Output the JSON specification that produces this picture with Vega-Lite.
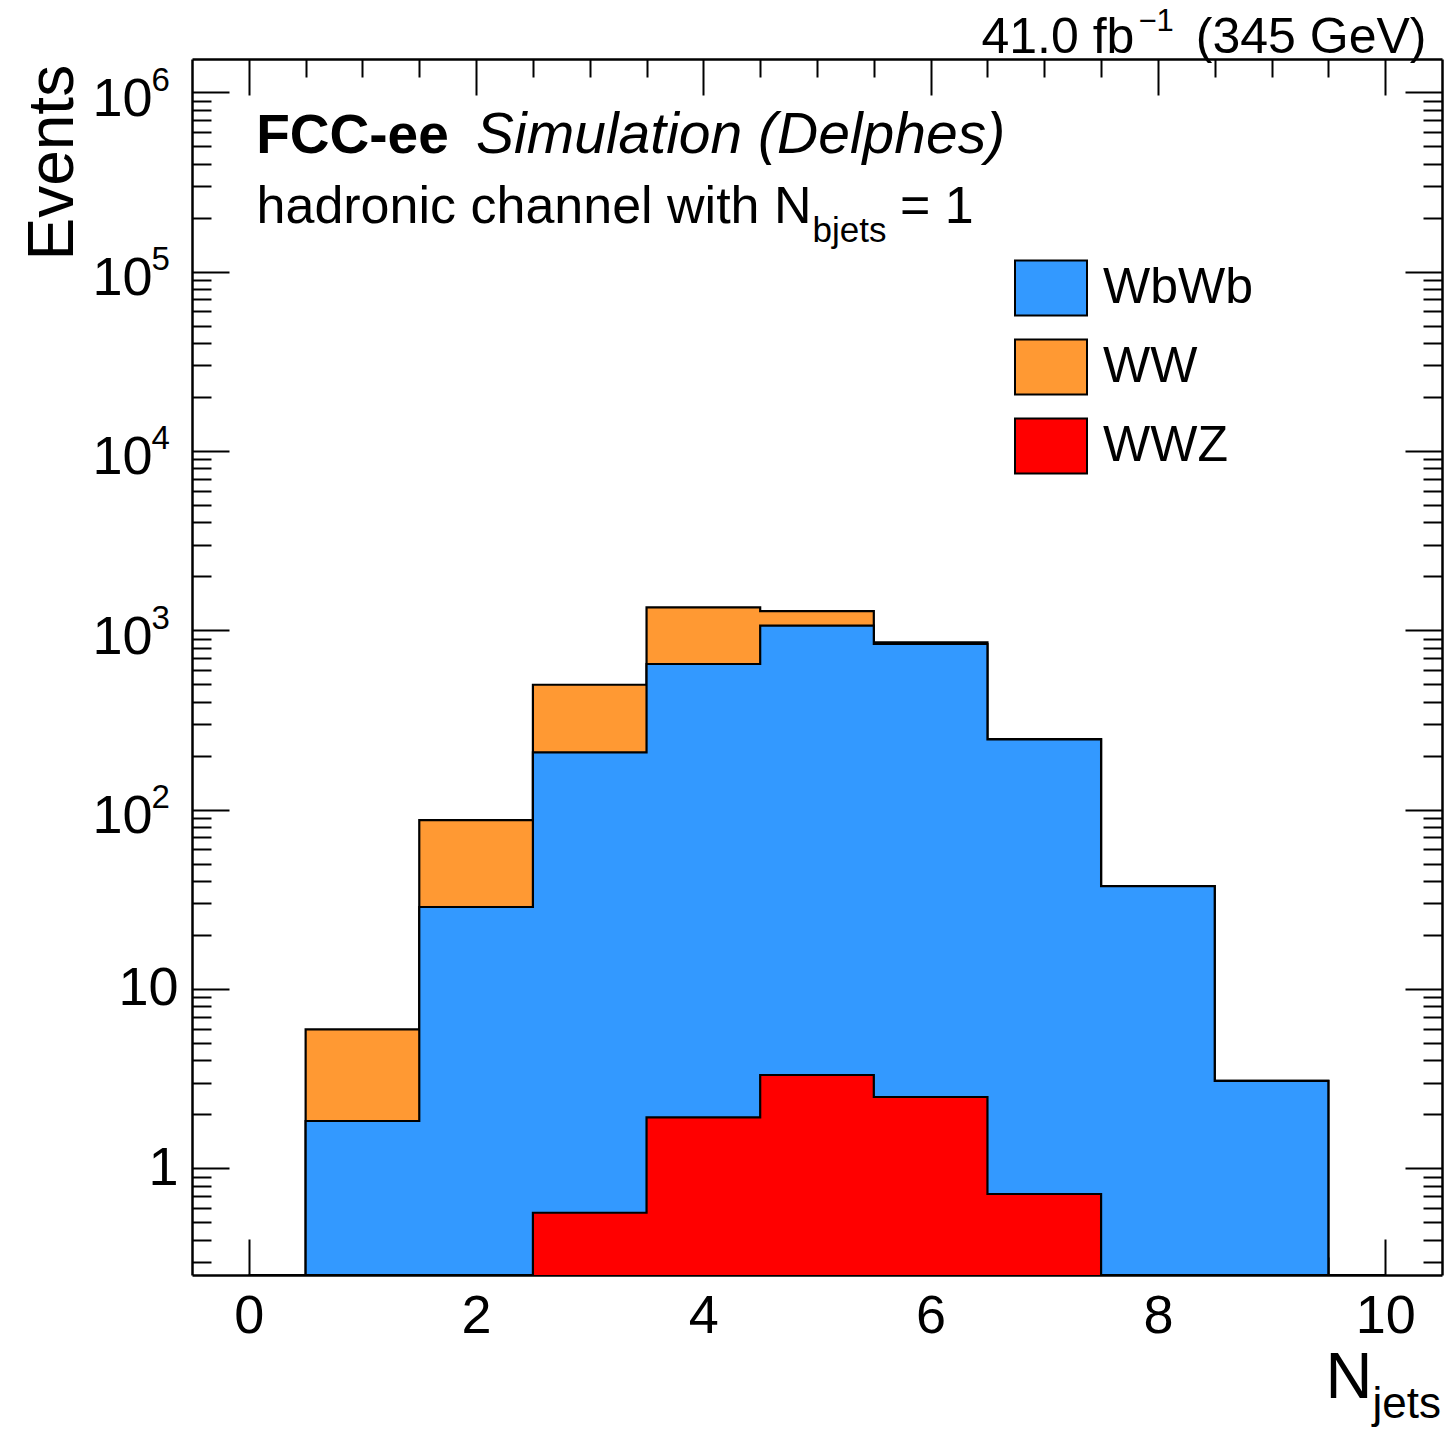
{
  "$schema": "https://vega.github.io/schema/vega-lite/v6.json",
  "width": 1250,
  "height": 1216,
  "autosize": "none",
  "padding": {"left": 192, "top": 59, "right": 2, "bottom": 155},
  "background": "white",
  "config": {
    "view": {"stroke": null},
    "font": "Liberation Sans",
    "axis": {
      "domain": false, "grid": false, "ticks": false, "labels": false,
      "zindex": 1, "title": null,
      "labelFont": "Liberation Sans", "labelColor": "black", "labelFontSize": 54,
      "labelFlush": false, "labelOverlap": false, "labelBound": false,
      "titleFont": "Liberation Sans", "titleFontWeight": "normal", "titleColor": "black",
      "titlePadding": 0,
      "tickColor": "black", "tickWidth": 2,
      "domainColor": "black", "domainWidth": 2.5
    }
  },
  "data": {
    "values": [
      {"njets": 0, "process": "WW", "level": 0},
      {"njets": 1, "process": "WW", "level": 5.96},
      {"njets": 2, "process": "WW", "level": 87.5},
      {"njets": 3, "process": "WW", "level": 497},
      {"njets": 4, "process": "WW", "level": 1344},
      {"njets": 5, "process": "WW", "level": 1281},
      {"njets": 6, "process": "WW", "level": 857},
      {"njets": 7, "process": "WW", "level": 247.5},
      {"njets": 8, "process": "WW", "level": 37.5},
      {"njets": 9, "process": "WW", "level": 3.07},
      {"njets": 10, "process": "WW", "level": 0},
      {"njets": 0, "process": "WbWb", "level": 0},
      {"njets": 1, "process": "WbWb", "level": 1.835},
      {"njets": 2, "process": "WbWb", "level": 28.65},
      {"njets": 3, "process": "WbWb", "level": 208.8},
      {"njets": 4, "process": "WbWb", "level": 649},
      {"njets": 5, "process": "WbWb", "level": 1061},
      {"njets": 6, "process": "WbWb", "level": 838.8},
      {"njets": 7, "process": "WbWb", "level": 246.7},
      {"njets": 8, "process": "WbWb", "level": 37.5},
      {"njets": 9, "process": "WbWb", "level": 3.07},
      {"njets": 10, "process": "WbWb", "level": 0},
      {"njets": 0, "process": "WWZ", "level": 0},
      {"njets": 1, "process": "WWZ", "level": 0},
      {"njets": 2, "process": "WWZ", "level": 0},
      {"njets": 3, "process": "WWZ", "level": 0.565},
      {"njets": 4, "process": "WWZ", "level": 1.925},
      {"njets": 5, "process": "WWZ", "level": 3.313},
      {"njets": 6, "process": "WWZ", "level": 2.498},
      {"njets": 7, "process": "WWZ", "level": 0.719},
      {"njets": 8, "process": "WWZ", "level": 0},
      {"njets": 9, "process": "WWZ", "level": 0},
      {"njets": 10, "process": "WWZ", "level": 0}
    ]
  },
  "resolve": {"axis": {"x": "independent", "y": "independent"}},
  "layer": [
    {
      "transform": [{"filter": "datum.process === 'WW'"}],
      "mark": {"type": "area", "interpolate": "step", "opacity": 1, "invalid": "show", "clip": true},
      "encoding": {
        "x": {"field": "njets", "type": "quantitative",
              "scale": {"domain": [-0.5, 10.5], "nice": false, "zero": false},
              "axis": {"orient": "bottom", "values": [0, 2, 4, 6, 8, 10], "labels": true,
                       "labelPadding": 14, "labelBaseline": "top", "labelAlign": "center",
                       "title": "N", "titleFontSize": 65, "titleX": 1133, "titleY": 122,
                       "titleAlign": "left", "titleBaseline": "alphabetic", "titleAngle": 0}},
        "y": {"field": "level", "type": "quantitative",
              "scale": {"type": "log", "domain": [0.2541, 1534000], "nice": false, "clamp": true},
              "axis": {"orient": "left", "values": [1, 10], "labels": true,
                       "labelPadding": 14, "labelAlign": "right", "labelBaseline": "middle",
                       "title": "Events", "titleFontSize": 64, "titleX": -120, "titleY": 201,
                       "titleAngle": -90, "titleAlign": "left", "titleBaseline": "alphabetic"}},
        "color": {"field": "process", "type": "nominal",
                  "scale": {"domain": ["WbWb", "WW", "WWZ"], "range": ["#3399ff", "#ff9933", "#ff0000"]},
                  "legend": {"orient": "none", "legendX": 822, "legendY": 192, "title": null,
                             "padding": 0, "offset": 0,
                             "symbolType": "M-1,-0.764H1V0.764H-1Z", "symbolSize": 5184,
                             "symbolOpacity": 1, "symbolStrokeColor": "black", "symbolStrokeWidth": 2,
                             "labelFont": "Liberation Sans", "labelFontSize": 50, "labelColor": "black",
                             "labelOffset": 15, "labelLimit": 400, "rowPadding": 10,
                             "encode": {"symbols": {"update": {"stroke": {"value": "black"},
                                                               "strokeWidth": {"value": 2},
                                                               "opacity": {"value": 1}}}}}}
      }
    },
    {
      "transform": [{"filter": "datum.process === 'WW'"}],
      "mark": {"type": "line", "interpolate": "step", "color": "black", "strokeWidth": 2.2,
               "strokeJoin": "miter", "invalid": "show", "clip": true},
      "encoding": {
        "x": {"field": "njets", "type": "quantitative",
              "axis": {"orient": "bottom", "values": [0, 2, 4, 6, 8, 10], "ticks": true,
                       "tickSize": -36, "domain": true}},
        "y": {"field": "level", "type": "quantitative",
              "axis": {"orient": "left", "values": [1, 10, 100, 1000, 10000, 100000, 1000000],
                       "ticks": true, "tickSize": -37, "domain": true}}
      }
    },
    {
      "transform": [{"filter": "datum.process === 'WbWb'"}],
      "mark": {"type": "area", "interpolate": "step", "opacity": 1, "invalid": "show", "clip": true},
      "encoding": {
        "x": {"field": "njets", "type": "quantitative",
              "axis": {"orient": "bottom",
                       "values": [0.5, 1, 1.5, 2.5, 3, 3.5, 4.5, 5, 5.5, 6.5, 7, 7.5, 8.5, 9, 9.5],
                       "ticks": true, "tickSize": -18,
                       "title": "jets", "titleFontSize": 44, "titleX": 1180, "titleY": 142,
                       "titleAlign": "left", "titleBaseline": "alphabetic", "titleAngle": 0}},
        "y": {"field": "level", "type": "quantitative",
              "axis": {"orient": "left",
                       "values": [0.3, 0.4, 0.5, 0.6, 0.7, 0.8, 0.9,
                                  2, 3, 4, 5, 6, 7, 8, 9,
                                  20, 30, 40, 50, 60, 70, 80, 90,
                                  200, 300, 400, 500, 600, 700, 800, 900,
                                  2000, 3000, 4000, 5000, 6000, 7000, 8000, 9000,
                                  20000, 30000, 40000, 50000, 60000, 70000, 80000, 90000,
                                  200000, 300000, 400000, 500000, 600000, 700000, 800000, 900000],
                       "ticks": true, "tickSize": -19}},
        "color": {"field": "process", "type": "nominal"}
      }
    },
    {
      "transform": [{"filter": "datum.process === 'WbWb'"}],
      "mark": {"type": "line", "interpolate": "step", "color": "black", "strokeWidth": 2.2,
               "strokeJoin": "miter", "invalid": "show", "clip": true},
      "encoding": {
        "x": {"field": "njets", "type": "quantitative",
              "axis": {"orient": "top", "values": [0, 2, 4, 6, 8, 10], "ticks": true,
                       "tickSize": -36, "domain": true,
                       "title": "41.0 fb", "titleFontSize": 50, "titleX": 789, "titleY": -7,
                       "titleAlign": "left", "titleBaseline": "alphabetic", "titleAngle": 0}},
        "y": {"field": "level", "type": "quantitative",
              "axis": {"orient": "right", "values": [1, 10, 100, 1000, 10000, 100000, 1000000],
                       "ticks": true, "tickSize": -37, "domain": true,
                       "title": "(345 GeV)", "titleFontSize": 50, "titleX": -16, "titleY": -7,
                       "titleAlign": "right", "titleBaseline": "alphabetic", "titleAngle": 0}}
      }
    },
    {
      "transform": [{"filter": "datum.process === 'WWZ'"}],
      "mark": {"type": "area", "interpolate": "step", "opacity": 1, "invalid": "show", "clip": true},
      "encoding": {
        "x": {"field": "njets", "type": "quantitative",
              "axis": {"orient": "top",
                       "values": [0.5, 1, 1.5, 2.5, 3, 3.5, 4.5, 5, 5.5, 6.5, 7, 7.5, 8.5, 9, 9.5],
                       "ticks": true, "tickSize": -18,
                       "title": "−1", "titleFontSize": 31, "titleX": 946, "titleY": -29,
                       "titleAlign": "left", "titleBaseline": "alphabetic", "titleAngle": 0}},
        "y": {"field": "level", "type": "quantitative",
              "axis": {"orient": "right",
                       "values": [0.3, 0.4, 0.5, 0.6, 0.7, 0.8, 0.9,
                                  2, 3, 4, 5, 6, 7, 8, 9,
                                  20, 30, 40, 50, 60, 70, 80, 90,
                                  200, 300, 400, 500, 600, 700, 800, 900,
                                  2000, 3000, 4000, 5000, 6000, 7000, 8000, 9000,
                                  20000, 30000, 40000, 50000, 60000, 70000, 80000, 90000,
                                  200000, 300000, 400000, 500000, 600000, 700000, 800000, 900000],
                       "ticks": true, "tickSize": -19}},
        "color": {"field": "process", "type": "nominal"}
      }
    },
    {
      "transform": [{"filter": "datum.process === 'WWZ'"}],
      "mark": {"type": "line", "interpolate": "step", "color": "black", "strokeWidth": 2.2,
               "strokeJoin": "miter", "invalid": "show", "clip": true},
      "encoding": {
        "x": {"field": "njets", "type": "quantitative", "axis": null},
        "y": {"field": "level", "type": "quantitative",
              "axis": {"orient": "left", "values": [100, 1000, 10000, 100000, 1000000],
                       "labels": true, "labelExpr": "'10'",
                       "labelPadding": 40, "labelOffset": 7,
                       "labelAlign": "right", "labelBaseline": "middle"}}
      }
    },
    {
      "data": {"values": [{}]},
      "mark": {"type": "text", "text": "FCC-ee", "font": "Liberation Sans", "fontWeight": "bold",
               "fontSize": 55, "align": "left", "baseline": "alphabetic", "color": "black"},
      "encoding": {
        "x": {"datum": 0.065, "type": "quantitative", "axis": null},
        "y": {"datum": 457000, "type": "quantitative",
              "axis": {"orient": "left", "values": [100, 1000, 10000, 100000, 1000000],
                       "labels": true, "labelExpr": "format(round(log(datum.value) / LN10), 'd')",
                       "labelFontSize": 33, "labelPadding": 41, "labelOffset": -12,
                       "labelAlign": "left", "labelBaseline": "middle"}}
      }
    },
    {
      "data": {"values": [{}]},
      "mark": {"type": "text", "text": "Simulation (Delphes)", "font": "Liberation Sans",
               "fontStyle": "italic", "fontSize": 57, "align": "left", "baseline": "alphabetic",
               "color": "black"},
      "encoding": {
        "x": {"datum": 2.0, "type": "quantitative", "axis": null},
        "y": {"datum": 457000, "type": "quantitative", "axis": null}
      }
    },
    {
      "data": {"values": [{}]},
      "mark": {"type": "text", "text": "hadronic channel with N", "font": "Liberation Sans",
               "fontSize": 52, "align": "left", "baseline": "alphabetic", "color": "black"},
      "encoding": {
        "x": {"datum": 0.068, "type": "quantitative", "axis": null},
        "y": {"datum": 186000, "type": "quantitative", "axis": null}
      }
    },
    {
      "data": {"values": [{}]},
      "mark": {"type": "text", "text": "bjets", "font": "Liberation Sans",
               "fontSize": 35, "align": "left", "baseline": "alphabetic", "color": "black"},
      "encoding": {
        "x": {"datum": 4.96, "type": "quantitative", "axis": null},
        "y": {"datum": 146900, "type": "quantitative", "axis": null}
      }
    },
    {
      "data": {"values": [{}]},
      "mark": {"type": "text", "text": "= 1", "font": "Liberation Sans",
               "fontSize": 52, "align": "left", "baseline": "alphabetic", "color": "black"},
      "encoding": {
        "x": {"datum": 5.73, "type": "quantitative", "axis": null},
        "y": {"datum": 186000, "type": "quantitative", "axis": null}
      }
    }
  ]
}
